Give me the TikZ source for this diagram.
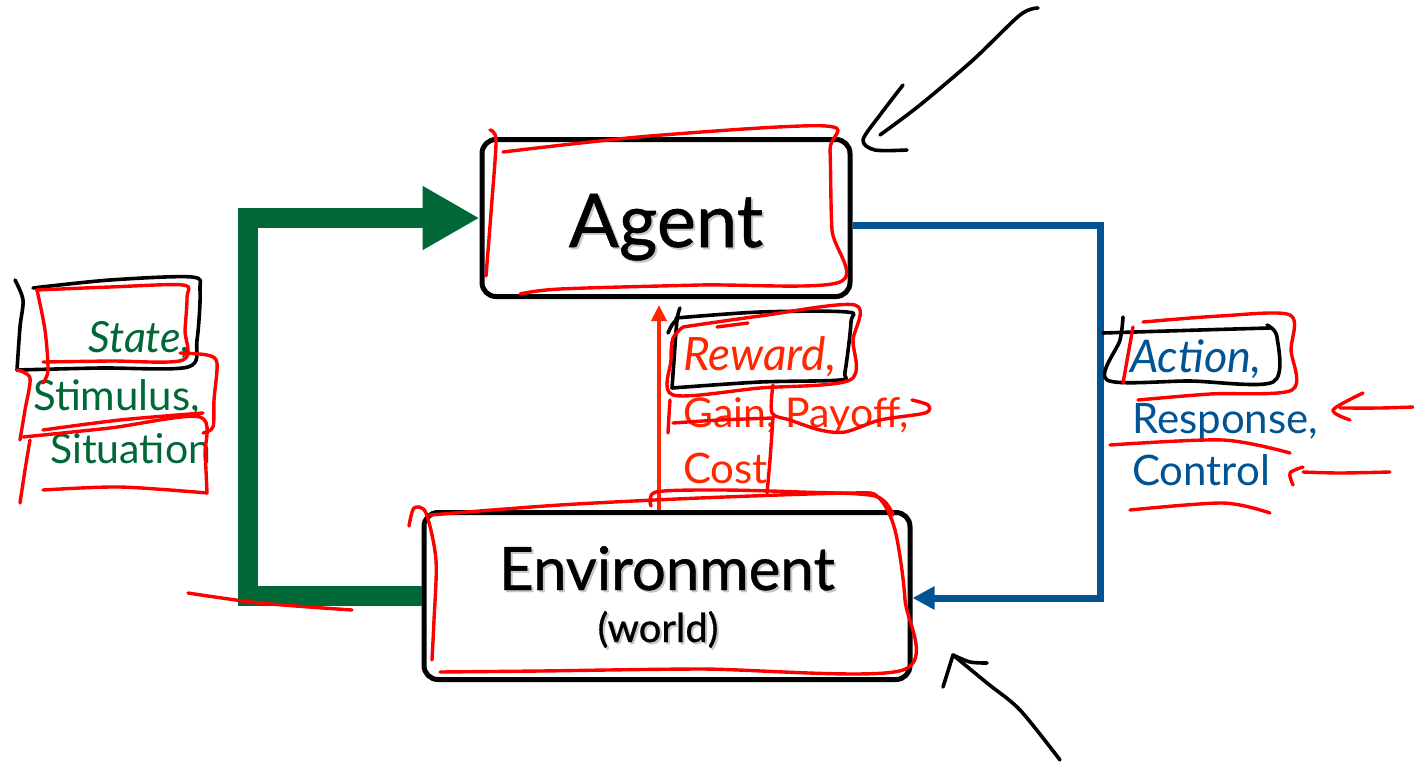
\documentclass[tikz,border=0pt]{standalone}
\usepackage{fontspec}
\setmainfont{Lato}
\newfontfamily\heavy[FakeBold=0.7]{Lato}
\usetikzlibrary{arrows.meta}
\definecolor{tgreen}{RGB}{0,104,55}
\definecolor{tblue}{RGB}{0,84,147}
\definecolor{tred}{RGB}{255,38,0}
\definecolor{pen}{RGB}{255,0,0}
\tikzset{
  boxnode/.style={draw=black, line width=5pt, rounded corners=14pt, fill=white},
  txt/.style={inner sep=0pt, anchor=base west},
  bigtxt/.style={inner sep=0pt, anchor=base},
  shadowtxt/.style={inner sep=0pt, anchor=base, black!22},
  redpen/.style={pen, line width=3.4pt, line cap=round, line join=round},
  blackpen/.style={black, line width=3.6pt, line cap=round, line join=round},
}
\newcommand{\fs}[1]{\fontsize{#1}{#1}\selectfont}
\begin{document}
\begin{tikzpicture}[x=1pt,y=-1pt]
\useasboundingbox[fill=white] (0,0) rectangle (1414,763);

% boxes
\node[boxnode, minimum width=368pt, minimum height=157pt] (agent) at (666,218) {};
\node[boxnode, minimum width=486pt, minimum height=167pt] (env) at (667,596) {};
\node[shadowtxt] (agentsh) at (668,249) {\heavy\fs{74}Agent};
\node[shadowtxt] (envsh) at (669,592) {\heavy\fs{60}Environment};
\node[shadowtxt] (worldsh) at (660,644) {\heavy\fs{40}(world)};
\node[bigtxt] (agenttxt) at (666,247) {\heavy\fs{74}Agent};
\node[bigtxt] (envtxt) at (667,590) {\heavy\fs{60}Environment};
\node[bigtxt] (worldtxt) at (658,642) {\heavy\fs{40}(world)};

% connectors
\coordinate (gl) at (248,0);
\draw[tgreen, line width=20pt, line join=miter, -{Triangle[length=57pt,width=60pt]}]
  (env.west) -- (env.west -| gl) |- (agent.west);
\coordinate (br) at (1100,0);
\draw[tblue, line width=7pt, line join=miter, -{Triangle[length=22pt,width=22pt]}]
  ([yshift=-7pt]agent.east) -- ([yshift=-7pt]agent.east -| br) |- ([yshift=-2pt]env.east);
\coordinate (rx) at (659,0);
\draw[tred, line width=4pt, -{Triangle[length=16pt,width=15pt]}, shorten >=6pt]
  (env.north -| rx) -- (agent.south -| rx);

% labels
\node[txt, tgreen] (state) at (88,352) {\fs{43}\itshape State,};
\node[txt, tgreen] (stim) at (33,410) {\fs{42}Stimulus,};
\node[txt, tgreen] (sit) at (50,463) {\fs{41}Situation};
\node[txt, tred] (rew) at (683,370) {\fs{46}\itshape Reward,};
\node[txt, tred] (gain) at (683,427) {\fs{41}Gain, Payoff,};
\node[txt, tred] (cost) at (683,483) {\fs{42}Cost};
\node[txt, tblue] (act) at (1130,372) {\fs{45}\itshape Action,};
\node[txt, tblue] (resp) at (1132,433) {\fs{42}Response,};
\node[txt, tblue] (ctrl) at (1132,485) {\fs{42}Control};

% ---- handwritten annotations ----
% Agent
\draw[redpen] plot[smooth] coordinates {(490,130) (496,140) (492,200) (486,276)};
\draw[redpen] plot[smooth] coordinates {(503,152) (650,136) (826,126) (830,150) (832,230) (840,282) (700,285) (560,289) (520,294)};
% Environment
\draw[redpen] plot[smooth] coordinates {(409,526) (414,508) (426,513) (436,560) (434,620) (432,660)};
\draw[redpen] plot[smooth] coordinates {(430,515) (560,505) (700,498) (850,493) (878,497) (895,530) (905,600) (903,670) (700,669) (540,671) (440,672)};
\draw[redpen] plot[smooth] coordinates {(651,506) (656,492) (720,490) (800,492) (875,496) (893,515)};
% Reward
\draw[blackpen] plot[smooth] coordinates {(680,308) (677,320) (674,360) (672,388)};
\draw[blackpen] plot[smooth] coordinates {(676,318) (760,312) (847,312) (851,322) (845,372) (840,380) (760,382) (672,388)};
\draw[blackpen] plot[smooth] coordinates {(668,333) (672,325) (678,318)};
\draw[redpen] plot[smooth] coordinates {(683,327) (760,316) (855,305) (853,340) (850,380) (760,388) (673,395) (671,360) (673,338) (683,327)};
\draw[redpen] (717,327) -- (748,323);
\draw[redpen] plot[smooth] coordinates {(670,400) (669,415) (668,433)};
\draw[redpen] plot[smooth] coordinates {(673,423) (720,420) (773,418)};
\draw[redpen] plot[smooth] coordinates {(773,385) (772,413) (790,420) (820,430) (845,432) (880,420) (925,413) (928,405) (912,400)};
\draw[redpen] plot[smooth] coordinates {(773,417) (770,460) (767,493)};
% State / Stimulus / Situation
\draw[blackpen] plot[smooth] coordinates {(15,280) (23,300) (20,327) (17,370)};
\draw[blackpen] plot[smooth] coordinates {(17,370) (100,368) (188,367) (197,340) (200,290) (192,277) (110,280) (33,288)};
\draw[redpen] plot[smooth] coordinates {(37,290) (110,287) (183,285) (187,297) (185,330) (183,360) (110,361) (43,362)};
\draw[redpen] plot[smooth] coordinates {(37,290) (45,330) (48,370) (43,383)};
\draw[redpen] plot[smooth] coordinates {(180,353) (207,355) (217,363) (214,400) (213,427) (203,433)};
\draw[redpen] plot[smooth] coordinates {(17,370) (30,378) (25,410) (20,440)};
\draw[redpen] plot[smooth] coordinates {(203,413) (120,420) (43,430)};
\draw[redpen] plot[smooth] coordinates {(23,437) (110,428) (200,417) (205,455) (207,493)};
\draw[redpen] plot[smooth] coordinates {(30,440) (25,470) (20,503)};
\draw[redpen] plot[smooth] coordinates {(43,490) (120,487) (207,493)};
\draw[redpen] plot[smooth] coordinates {(188,593) (260,603) (352,610)};
% Action / Response / Control
\draw[blackpen] plot[smooth] coordinates {(1103,333) (1200,330) (1270,328)};
\draw[blackpen] plot[smooth] coordinates {(1123,317) (1120,340) (1107,380) (1190,381) (1273,382) (1277,337) (1267,325)};
\draw[redpen] plot[smooth] coordinates {(1143,322) (1220,316) (1290,315) (1291,350) (1292,390) (1210,394) (1138,400)};
\draw[redpen] plot[smooth] coordinates {(1133,327) (1128,355) (1123,383)};
\draw[redpen] plot[smooth] coordinates {(1110,445) (1223,440) (1290,453)};
\draw[redpen] plot[smooth] coordinates {(1413,407) (1380,408) (1340,408)};
\draw[redpen] plot[smooth] coordinates {(1363,393) (1333,410) (1350,420)};
\draw[redpen] plot[smooth] coordinates {(1390,472) (1340,473) (1303,472)};
\draw[redpen] plot[smooth] coordinates {(1303,467) (1290,473) (1293,485)};
\draw[redpen] plot[smooth] coordinates {(1130,510) (1223,503) (1270,513)};
% black arrows
\draw[blackpen] plot[smooth] coordinates {(1038,8) (1020,15) (973,60) (920,105) (880,135)};
\draw[blackpen] plot[smooth] coordinates {(903,85) (880,115) (863,140) (875,150) (907,150)};
\draw[blackpen] (943,687) -- (953,655);
\draw[blackpen] plot[smooth] coordinates {(953,655) (970,662) (987,663)};
\draw[blackpen] plot[smooth] coordinates {(953,655) (987,683) (1020,710) (1060,760)};
\end{tikzpicture}
\end{document}
